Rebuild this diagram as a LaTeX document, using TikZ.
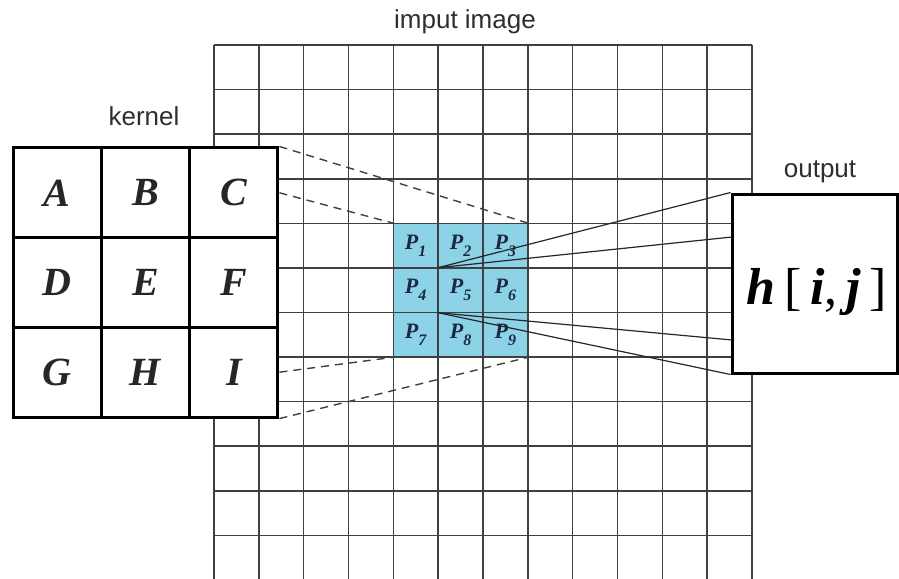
\documentclass[tikz,border=0pt]{standalone}
\usepackage{fontspec}
\setmainfont{Liberation Serif}
\newfontfamily\lblfont{Liberation Sans}
\definecolor{pblue}{RGB}{141,211,232}
\definecolor{pnavy}{RGB}{28,40,66}
\begin{document}
\begin{tikzpicture}[x=1pt,y=-1pt,
  gridline/.style={draw=black!75, line width=1.6pt},
  kcell/.style={draw=black, line width=3pt, fill=white, minimum width=88.3pt, minimum height=89.7pt, inner sep=0pt, font=\fontsize{40}{40}\selectfont\bfseries\itshape, text=black!85},
  pcell/.style={minimum width=44.83pt, minimum height=44.58pt, inner sep=0pt, font=\fontsize{22}{22}\selectfont\bfseries\itshape, text=pnavy},
  lbl/.style={font=\lblfont\fontsize{26}{26}\selectfont, text=black!82, inner sep=0pt},
  dashline/.style={draw=black!75, dash pattern=on 8pt off 6pt, line width=1.4pt},
  conline/.style={draw=black!85, line width=1.2pt}]
\useasboundingbox (0,0) rectangle (899,578);
% blue window
\fill[pblue] (393.3,223.3) rectangle (527.8,357.6);
% input image grid
\foreach \i in {0,...,12} {
  \draw[gridline] ({214+\i*44.83},45) -- ({214+\i*44.83},580);
  \draw[gridline] (214,{45+\i*44.58}) -- (752,{45+\i*44.58});
}
% kernel
\node[kcell] (k11) at (57.2,192.8) {A};
\node[kcell] (k12) at (145.5,192.8) {B};
\node[kcell] (k13) at (233.8,192.8) {C};
\node[kcell] (k21) at (57.2,282.5) {D};
\node[kcell] (k22) at (145.5,282.5) {E};
\node[kcell] (k23) at (233.8,282.5) {F};
\node[kcell] (k31) at (57.2,372.2) {G};
\node[kcell] (k32) at (145.5,372.2) {H};
\node[kcell] (k33) at (233.8,372.2) {I};
% output box
\node[draw=black, line width=3pt, fill=white, minimum width=165pt, minimum height=179pt, inner sep=0pt] (out) at (814.5,283.5) {};
\node[inner sep=0pt, font=\fontsize{52}{52}\selectfont] (hij) at (817,292) {{\bfseries\itshape h}\,[\,{\bfseries\itshape i},\,{\bfseries\itshape j}\,]};
% window pixels
\newcommand{\pl}[1]{P\raisebox{-0.32em}{\fontsize{16}{16}\selectfont #1}}
\node[pcell] (p1) at (415.7,245.6) {\pl{1}};
\node[pcell] (p2) at (460.6,245.6) {\pl{2}};
\node[pcell] (p3) at (505.4,245.6) {\pl{3}};
\node[pcell] (p4) at (415.7,290.2) {\pl{4}};
\node[pcell] (p5) at (460.6,290.2) {\pl{5}};
\node[pcell] (p6) at (505.4,290.2) {\pl{6}};
\node[pcell] (p7) at (415.7,334.8) {\pl{7}};
\node[pcell] (p8) at (460.6,334.8) {\pl{8}};
\node[pcell] (p9) at (505.4,334.8) {\pl{9}};
% dashed projection lines
\draw[dashline] (k13.north east) -- (p3.north east);
\draw[dashline] (k13.east) -- (p1.north west);
\draw[dashline] (k33.east) -- (p7.south west);
\draw[dashline] (k33.south east) -- (p9.south east);
% lines to output
\coordinate (o1) at (732,237);
\coordinate (o2) at (732,340);
\draw[conline] (p5.north west) -- (out.north west);
\draw[conline] (p5.north west) -- (o1);
\draw[conline] (p5.south west) -- (o2);
\draw[conline] (p5.south west) -- (out.south west);
% labels
\node[lbl] (tin) at (465,22) {imput image};
\node[lbl] (tk) at (144,116) {kernel};
\node[lbl] (tout) at (820,172) {output};
\end{tikzpicture}
\end{document}
